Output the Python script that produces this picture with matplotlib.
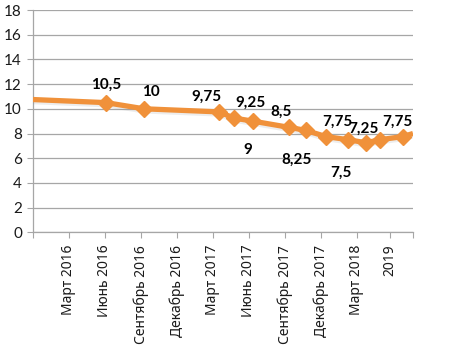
import matplotlib
matplotlib.use("Agg")
import matplotlib.pyplot as plt
import matplotlib.patheffects as pe

plt.rcParams['font.family'] = ['Noto Sans', 'DejaVu Sans']

# x positions in months from the left edge of the axis
line_x = [0.0, 6.08, 9.25, 15.5, 16.75, 18.33, 21.33, 22.75, 24.42, 26.25, 27.75, 28.92, 30.83, 31.67]
line_y = [10.75, 10.5, 10.0, 9.75, 9.25, 9.0, 8.5, 8.25, 7.75, 7.5, 7.25, 7.5, 7.75, 8.0]
marker_x = line_x[1:-1]
marker_y = line_y[1:-1]

labels = ["10,5", "10", "9,75", "9,25", "9", "8,5", "8,25", "7,75", "7,5", "7,25", "", "7,75"]
label_offsets = [(0, 13), (5, 12), (-9, 11), (12, 11), (-4, -21), (-6, 11), (-7, -21), (8, 11), (-5, -24), (-2, 10), (0, 0), (-4, 11)]

tick_pos = [0, 3, 6, 9, 12, 15, 18, 21, 24, 27, 29.75, 31.67]
tick_labels = ["", "Март 2016", "Июнь 2016", "Сентябрь 2016", "Декабрь 2016", "Март 2017",
               "Июнь 2017", "Сентябрь 2017", "Декабрь 2017", "Март 2018", "2019", ""]

y_ticks = [0, 2, 4, 6, 8, 10, 12, 14, 16, 18]

color = "#F0913A"
grid_c = "#A6A6A6"

fig = plt.figure(figsize=(4.7, 3.53), dpi=100)
ax = fig.add_axes([33/470, 1 - 232.3/353, (413-33)/470, (232.3-10)/353])

shadow = [pe.SimpleLineShadow(offset=(0, -1.5), shadow_color="#888888", alpha=0.15), pe.Normal()]
ax.plot(line_x, line_y, color=color, lw=3.8, solid_capstyle='butt', zorder=3, path_effects=shadow)
ax.plot(marker_x, marker_y, linestyle='none', marker='D', markersize=8, color=color, zorder=4)

for x, y, t, (dx, dy) in zip(marker_x, marker_y, labels, label_offsets):
    if t:
        ax.annotate(t, (x, y), xytext=(dx, dy), textcoords='offset points',
                    ha='center', va='center', fontsize=11, fontweight='bold',
                    color='black', family=['Lato', 'DejaVu Sans'])

ax.set_xlim(0, 31.67)
ax.set_ylim(0, 18)
ax.set_yticks(y_ticks)
ax.set_yticklabels([str(v) for v in y_ticks], fontsize=11, color='#1a1a1a', family=['Lato', 'DejaVu Sans'])
ax.set_xticks(tick_pos)
ax.set_xticklabels(tick_labels, rotation=90, fontsize=10, color='#1a1a1a')
ax.tick_params(axis='x', length=4, color=grid_c, pad=5)
ax.tick_params(axis='y', length=4, color=grid_c, pad=4)
ax.grid(axis='y', color=grid_c, lw=0.9)
ax.set_axisbelow(True)
for s in ['top', 'right']:
    ax.spines[s].set_visible(False)
for s in ['left', 'bottom']:
    ax.spines[s].set_color(grid_c)
    ax.spines[s].set_linewidth(0.9)

fig.savefig("out.png", dpi=100)
